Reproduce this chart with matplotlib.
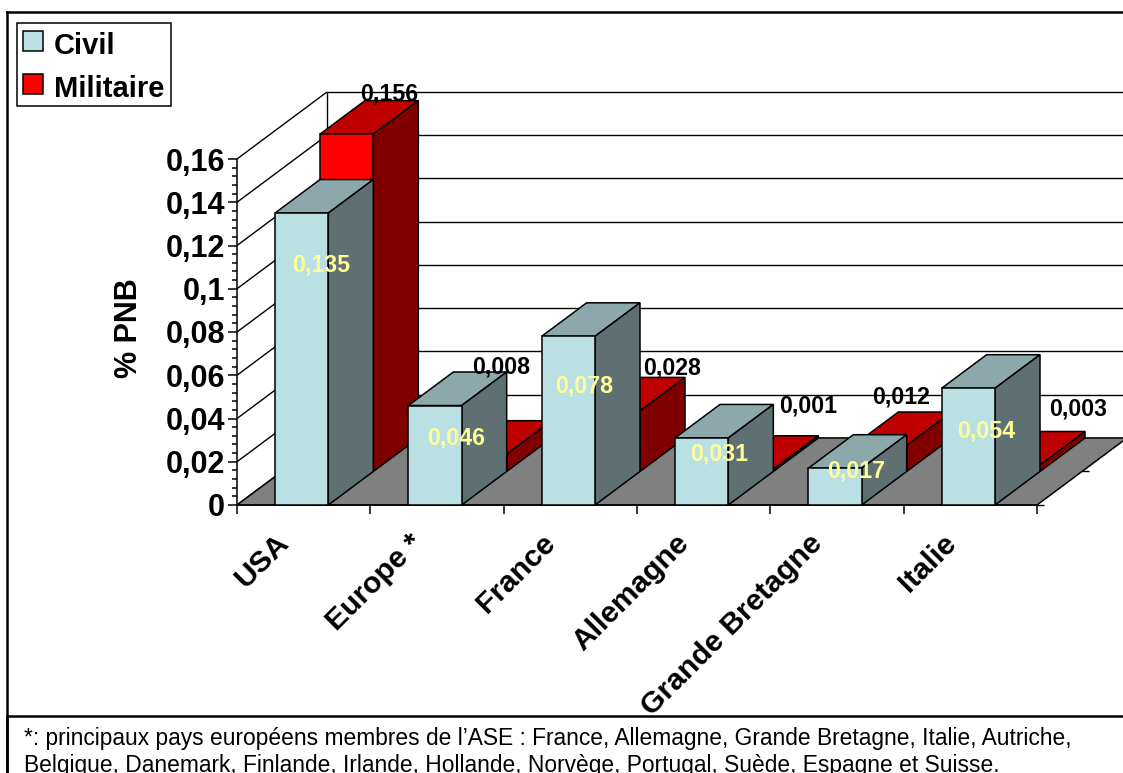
import matplotlib
matplotlib.use('Agg')
import matplotlib.pyplot as plt
from matplotlib.patches import Patch, Polygon, Rectangle
from matplotlib.transforms import ScaledTranslation

plt.rcParams['font.family'] = ['Liberation Sans', 'DejaVu Sans']

#***********************DONNEES*******************
pays = ['USA', 'Europe *', 'France', 'Allemagne', 'Grande Bretagne', 'Italie']
civil = [0.135, 0.046, 0.078, 0.031, 0.017, 0.054]
militaire = [0.156, 0.008, 0.028, 0.001, 0.012, 0.003]
civil_txt = ['0,135', '0,046', '0,078', '0,031', '0,017', '0,054']
militaire_txt = ['0,156', '0,008', '0,028', '0,001', '0,012', '0,003']
y_ticks = [0, 0.02, 0.04, 0.06, 0.08, 0.1, 0.12, 0.14, 0.16]
y_labels = ['0', '0,02', '0,04', '0,06', '0,08', '0,1', '0,12', '0,14', '0,16']

note = ("*: principaux pays européens membres de l’ASE : France, Allemagne, Grande Bretagne, Italie, Autriche,\n"
        "Belgique, Danemark, Finlande, Irlande, Hollande, Norvège, Portugal, Suède, Espagne et Suisse.")

# decalage des etiquettes par rapport au coin avant gauche de chaque barre (pixels)
civil_dec = [(46, -52), (48, -32), (42, -50), (44, -16), (48, -3), (45, -43)]
militaire_dec = [(69, 40), (48, 87), (85, 43), (88, 63), (48, 49), (91, 56)]

# perspective : profondeur totale du graphique en unites des axes
prof_x = 0.675
prof_y = 0.031
bar_g = 0.285
bar_l = 0.4

W, H = 1123, 773
fig = plt.figure(figsize=(W / 100, H / 100), dpi=100, facecolor='white')
ax = fig.add_axes([237 / W, (H - 505) / H, 800 / W, 346 / H])
ax.set_xlim(0, 6)
ax.set_ylim(0, 0.16)
ax.patch.set_visible(False)
for s in ['top', 'right']:
    ax.spines[s].set_visible(False)
ax.spines['left'].set_linewidth(1.1)
ax.spines['bottom'].set_linewidth(1.1)

# graduations
ax.set_yticks(y_ticks)
ax.set_yticklabels(y_labels, fontsize=22, fontweight='bold')
ax.set_yticks([i * 0.004 for i in range(41)], minor=True)
ax.tick_params(axis='y', which='major', length=6.5, width=1.1, pad=2)
ax.tick_params(axis='y', which='minor', length=3.6, width=1.1)
ax.set_xticks(range(7))
ax.set_xticklabels([])
ax.set_xticks([i + 0.5 for i in range(6)], minor=True)
ax.set_xticklabels(pays, minor=True, fontsize=21.6, fontweight='bold', rotation=45,
                   ha='right', va='center', rotation_mode='anchor')
ax.tick_params(axis='x', which='major', length=6.5, width=1.1)
ax.tick_params(axis='x', which='minor', length=0, pad=8)
decale = ScaledTranslation(-19 / 100, -23 / 100, fig.dpi_scale_trans)
for lab in ax.get_xticklabels(minor=True):
    lab.set_transform(lab.get_transform() + decale)
ax.set_ylabel('% PNB', fontsize=22, fontweight='bold', labelpad=10)
ax.yaxis.set_label_coords(-93 / 800, 0.51)


def ligne(xs, ys, z=1):
    ax.plot(xs, ys, color='black', lw=1.0, clip_on=False, zorder=z, solid_capstyle='butt')


def poly(pts, couleur, z):
    ax.add_patch(Polygon(pts, closed=True, facecolor=couleur, edgecolor='black',
                         lw=1.1, clip_on=False, zorder=z, joinstyle='miter'))


# parois et grille
for t in y_ticks:
    ligne([0, prof_x], [t, t + prof_y])
    ligne([prof_x, 6.1 + prof_x], [t + prof_y, t + prof_y])
ligne([prof_x, prof_x], [prof_y, 0.16 + prof_y])
ligne([6, 6.05], [0, 0], z=2)
ligne([6 + prof_x / 2, 6.05 + prof_x / 2], [prof_y / 2, prof_y / 2], z=1)

# sol
poly([(0, 0), (6, 0), (6 + prof_x, prof_y), (prof_x, prof_y)], '#808080', 2)


def barre(x, v, d0, d1, cols, z):
    # x : bord gauche, v : valeur, d0/d1 : profondeur avant/arriere (0 a 1)
    ax0, ay0 = x + d0 * prof_x, d0 * prof_y
    ax1, ay1 = x + d1 * prof_x, d1 * prof_y
    poly([(ax0, ay0 + v), (ax0 + bar_l, ay0 + v), (ax1 + bar_l, ay1 + v), (ax1, ay1 + v)], cols[1], z)
    poly([(ax0 + bar_l, ay0), (ax1 + bar_l, ay1), (ax1 + bar_l, ay1 + v), (ax0 + bar_l, ay0 + v)], cols[2], z)
    poly([(ax0, ay0), (ax0 + bar_l, ay0), (ax0 + bar_l, ay0 + v), (ax0, ay0 + v)], cols[0], z)


rouges = ['#FF0000', '#BF0000', '#800000']
bleus = ['#BBE0E3', '#8CA8AA', '#5E7072']

for i in range(6):
    barre(i + bar_g, militaire[i], 0.5, 1, rouges, 3 + i * 0.01)
for i in range(6):
    barre(i + bar_g, civil[i], 0, 0.5, bleus, 4 + i * 0.01)

# etiquettes de valeurs
for i in range(6):
    ax.annotate(militaire_txt[i], (i + bar_g + prof_x / 2, prof_y / 2 + militaire[i]),
                xytext=militaire_dec[i], textcoords='offset pixels', ha='center', va='center',
                fontsize=16.7, fontweight='bold', color='black', zorder=6, annotation_clip=False)
    ax.annotate(civil_txt[i], (i + bar_g, civil[i]),
                xytext=civil_dec[i], textcoords='offset pixels', ha='center', va='center',
                fontsize=16.7, fontweight='bold', color='#FFFF99', zorder=6, annotation_clip=False)

# legende
leg = ax.legend(handles=[Patch(facecolor=bleus[0], edgecolor='black', lw=1.1, label='Civil'),
                         Patch(facecolor=rouges[0], edgecolor='black', lw=1.1, label='Militaire')],
                loc='upper left', bbox_to_anchor=(17 / W, 1 - 23 / H), bbox_transform=fig.transFigure,
                prop={'size': 21, 'weight': 'bold'}, fancybox=False, framealpha=1, edgecolor='black',
                borderaxespad=0, borderpad=0.22, labelspacing=0.5, handlelength=0.66, handleheight=0.66,
                handletextpad=0.38)
leg.get_frame().set_linewidth(1.1)
leg.set_zorder(7)
for t in leg.get_texts():
    t.set_position((0, -3))

# cadre et note de bas de page, au-dessus du graphique
page = fig.add_axes([0, 0, 1, 1], zorder=5)
page.set_xlim(0, W)
page.set_ylim(H, 0)
page.axis('off')
page.add_patch(Rectangle((7, 716), W, 80, facecolor='white', edgecolor='black', lw=1.8))
page.plot([7, W], [12, 12], color='black', lw=1.8)
page.plot([7, 7], [12, H], color='black', lw=1.8)
page.text(24, 727.5, note, fontsize=16.35, color='black', va='top', ha='left', linespacing=1.22)

plt.savefig('out.png', dpi=100)
